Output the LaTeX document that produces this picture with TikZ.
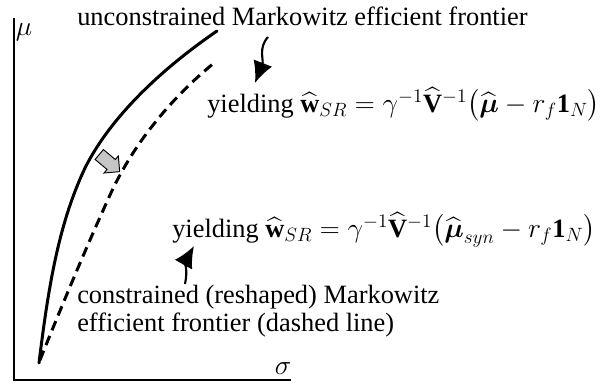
\documentclass[tikz,border=0pt]{standalone}
\usepackage{amsmath,amssymb}
\usepackage{fontspec}
\setmainfont{Liberation Serif}
\usetikzlibrary{arrows.meta,shapes.arrows,positioning,calc}

\tikzset{
  lbl/.style={font=\fontsize{19.8}{21}\selectfont, inner sep=0pt},
  frontier/.style={line width=2.25pt, line cap=round},
  pointer/.style={line width=1.6pt, -{Latex[length=16pt,width=15pt]}},
}

\begin{document}
\begin{tikzpicture}[x=0.75pt,y=0.75pt,yscale=-1,xscale=1]
\useasboundingbox (0,0) rectangle (606,388);

%Straight Lines [axes]
\coordinate (orig) at (14,380);
\coordinate (ytop) at (14,18);
\coordinate (xend) at (291,380);
\draw [line width=1.1pt] (ytop) -- (orig) -- (xend) ;

% Text Node
\node [lbl] (mu) at (24,32) {$\mu$};
% Text Node
\node [lbl] (sigma) at (283,369) {$\sigma$};

%Curve Lines [solid frontier]
\draw [frontier] (39,363) .. controls (48,290) and (58,225) .. (85,168) .. controls (110,118) and (160,70) .. (217,31) ;
%Curve Lines [dashed frontier]
\draw [frontier, line cap=butt, dash pattern={on 7.5pt off 4.5pt}] (40,360) .. controls (60,310) and (85,250) .. (110,195) .. controls (135,140) and (175,95) .. (214,63) ;

%Shape: Block arrow
\node [single arrow, draw=black, fill=gray!45, line width=0.7pt, rotate=-40,
       minimum height=20pt, inner xsep=0pt, inner ysep=4.5pt, single arrow head extend=3.5pt] (shift) at (107,161) {};

% Text Node
\node [lbl, anchor=west] (uncon) at (77,16) {unconstrained Markowitz efficient frontier};
% Text Node
\node [lbl, anchor=west] (yield1) at (207,105) {yielding $\widehat{\mathbf{w}}_{SR}=\gamma^{-1}\widehat{\mathbf{V}}^{-1}\bigl(\widehat{\boldsymbol{\mu}}-r_f\mathbf{1}_N\bigr)$};
% Text Node
\node [lbl, anchor=west] (yield2) at (172,230) {yielding $\widehat{\mathbf{w}}_{SR}=\gamma^{-1}\widehat{\mathbf{V}}^{-1}\bigl(\widehat{\boldsymbol{\mu}}_{syn}-r_f\mathbf{1}_N\bigr)$};
% Text Node
\node [lbl, anchor=west, align=left] (con) at (77,311) {constrained (reshaped) Markowitz\\efficient frontier (dashed line)};

%Curve Lines [pointers]
\coordinate (p1s) at (268,37);
\coordinate (p1e) at (255,83);
\draw [pointer] (p1s) .. controls (258,48) and (264,60) .. (p1e) ;
\coordinate (p2s) at (185,284);
\coordinate (p2e) at (194,246);
\draw [pointer] (p2s) .. controls (188,270) and (185,262) .. (p2e) ;

\end{tikzpicture}
\end{document}
